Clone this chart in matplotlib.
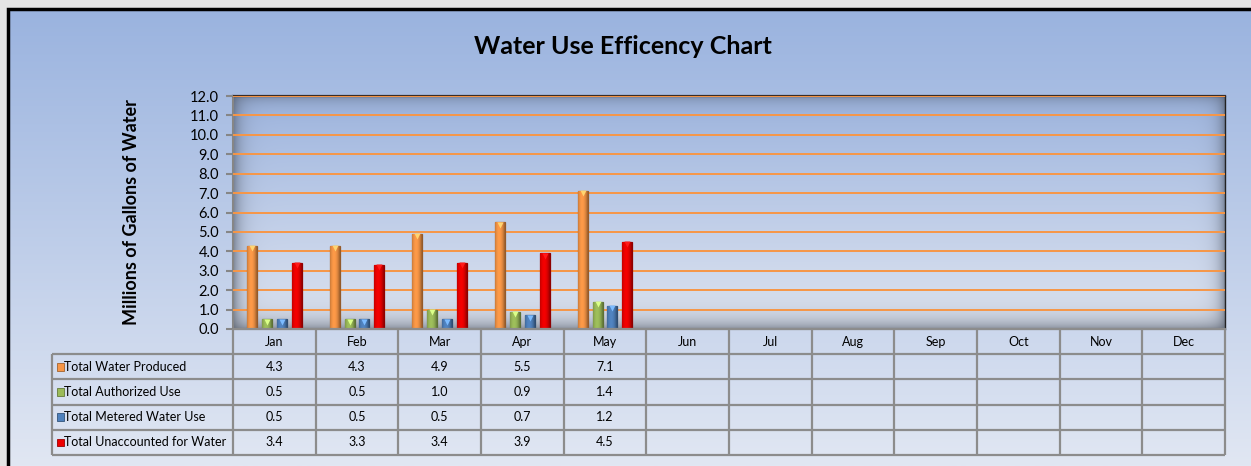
import numpy as np
import matplotlib.pyplot as plt
from matplotlib.patches import Rectangle
from matplotlib.colors import to_rgb

plt.rcParams['font.family'] = ['Lato', 'DejaVu Sans']

months = ["Jan", "Feb", "Mar", "Apr", "May", "Jun",
          "Jul", "Aug", "Sep", "Oct", "Nov", "Dec"]
series_names = ["Total Water Produced", "Total Authorized Use",
                "Total Metered Water Use", "Total Unaccounted for Water"]
water_produced = [4.3, 4.3, 4.9, 5.5, 7.1]
authorized_use = [0.5, 0.5, 1.0, 0.9, 1.4]
metered_use = [0.5, 0.5, 0.5, 0.7, 1.2]
unaccounted = [3.4, 3.3, 3.4, 3.9, 4.5]
series = [water_produced, authorized_use, metered_use, unaccounted]
colors = ["#f79646", "#9bbb59", "#4f81bd", "#ee0000"]

W, H = 1251, 466
fig = plt.figure(figsize=(W / 100, H / 100), dpi=100)
fig.patch.set_facecolor("#e4e4e4")

# background panel with vertical gradient
bg = fig.add_axes([9 / W, 0, 1, 1 - 9 / H], zorder=-10)
top_c = np.array(to_rgb("#9ab3df"))
bot_c = np.array(to_rgb("#e1e7f3"))
t = np.linspace(0, 1, 256)[:, None]
grad = top_c * (1 - t[..., None]) + bot_c * t[..., None]
bg.imshow(grad, aspect="auto", extent=(0, 1, 0, 1))
bg.set_axis_off()
fig.add_artist(Rectangle((7.5 / W, -0.1), 1.2, 1.1 - 8.5 / H, transform=fig.transFigure,
                         fill=False, edgecolor="black", lw=2.5))

# main plot area
ax = fig.add_axes([233 / W, 1 - 329 / H, 992 / W, 233 / H])
ax.set_facecolor("none")

# plot area background: gradient with inner shadow
pw, ph = 992, 233
xx = np.arange(pw)[None, :]
yy = np.arange(ph)[:, None]
base_t = (yy / (ph - 1))[..., None]
p_top = np.array(to_rgb("#9db4de"))
p_bot = np.array(to_rgb("#dfe5f1"))
base = p_top * (1 - base_t) + p_bot * base_t
d = 1 - (1 - 0.6 * np.exp(-xx / 8.0)) * (1 - 0.55 * np.exp(-(pw - 1 - xx) / 7.0)) \
    * (1 - 0.45 * np.exp(-yy / 7.0)) * (1 - 0.55 * np.exp(-(ph - 1 - yy) / 10.0))
shadow = np.array(to_rgb("#4a5260"))
img = base * (1 - d[..., None]) + shadow * d[..., None]
ax.imshow(img, aspect="auto", extent=(-0.5, 11.5, 0, 12), zorder=0, interpolation="bilinear")

x = np.arange(len(months))
offsets = [-0.27, -0.09, 0.09, 0.27]
bw = 0.12
for vals, off, col in zip(series, offsets, colors):
    c = np.array(to_rgb(col))
    edge = c * 0.6
    bars = ax.bar(x[:len(vals)] + off, vals, bw, color=col, edgecolor=edge, lw=0.9, zorder=3)
    prof = np.linspace(-1, 1, 40)
    shade = 0.72 + 0.3 * (1 - prof ** 2) - 0.1 * prof
    cyl = np.clip(c[None, None, :] * shade[None, :, None], 0, 1)
    for b in bars:
        im = ax.imshow(cyl, aspect="auto", zorder=3.5,
                       extent=(b.get_x(), b.get_x() + b.get_width(), 0, b.get_height()))
        im.set_clip_path(b)
        ax.plot(b.get_x() + b.get_width() / 2, b.get_height() - 0.12, marker="v",
                ms=4, color=np.clip(c * 1.25 + 0.1, 0, 1), mec="none", zorder=4)

ax.set_xlim(-0.5, 11.5)
ax.set_ylim(0, 12)
ax.set_yticks(np.arange(0, 13, 1))
ax.set_yticklabels([f"{v:.1f}" for v in np.arange(0, 13, 1)], fontsize=10.5)
ax.set_xticks([])
ax.tick_params(axis="y", direction="out", length=5, color="#868686", width=1.5, pad=5)
ax.yaxis.grid(True, color="#f79646", lw=1.4, zorder=1)
ax.set_axisbelow(False)
for ln in ax.get_ygridlines():
    ln.set_zorder(1)
ax.spines["left"].set_color("#868686")
ax.spines["left"].set_linewidth(1.5)
ax.spines["bottom"].set_color("#868686")
ax.spines["bottom"].set_linewidth(1.5)
ax.spines["top"].set_color("#3a2c26")
ax.spines["top"].set_linewidth(1.6)
ax.spines["right"].set_color("#222222")
ax.spines["right"].set_linewidth(1.0)

ax.set_ylabel("Millions of Gallons of Water", fontsize=13, fontweight="bold")
ax.yaxis.set_label_coords(-0.094, 0.5)

fig.text(623 / W, 1 - 47 / H, "Water Use Efficency Chart", ha="center", va="center",
         fontsize=18, fontweight="bold")

# data table under the chart, drawn in column units
lab_w = 181 / (992 / 12)
tax = fig.add_axes([52 / W, 1 - 455 / H, 1173 / W, 126 / H])
tax.set_xlim(-lab_w, len(months))
tax.set_ylim(5, 0)
tax.set_axis_off()
grid_kw = dict(color="#8c8c8c", lw=1.6, clip_on=False)
tax.vlines(np.arange(len(months) + 1), 0, 5, **grid_kw)
tax.vlines(-lab_w, 1, 5, **grid_kw)
tax.hlines(0, 0, len(months), **grid_kw)
tax.hlines(np.arange(1, 6), -lab_w, len(months), **grid_kw)
for j, m in enumerate(months):
    tax.text(j + 0.5, 0.5, m, ha="center", va="center", fontsize=9)
for i, (name, vals, col) in enumerate(zip(series_names, series, colors)):
    yc = i + 1.5
    c = np.array(to_rgb(col))
    tax.add_patch(Rectangle((-lab_w + 0.06, yc - 0.15), 0.085, 0.3, facecolor=col,
                            edgecolor=c * 0.65, lw=0.6))
    tax.text(-lab_w + 0.15, yc, name, ha="left", va="center", fontsize=9)
    for j, v in enumerate(vals):
        tax.text(j + 0.5, yc, f"{v:.1f}", ha="center", va="center", fontsize=9)

fig.savefig("out.png", dpi=100)
